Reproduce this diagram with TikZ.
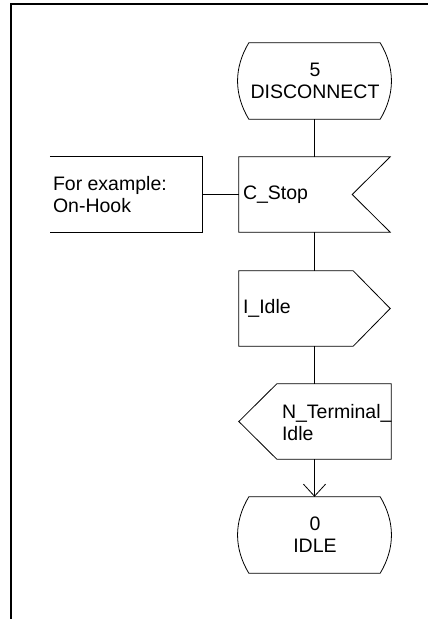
\documentclass[tikz,border=0pt]{standalone}
\usepackage{fontspec}
\setmainfont{Liberation Sans}
\usetikzlibrary{calc,arrows.meta}

\tikzset{
  sdl/.style={draw=black, line width=0.8pt, line join=miter},
  shapebox/.style={inner sep=0pt, minimum width=152pt, minimum height=75pt},
  statebox/.style={shapebox, minimum height=76pt, align=center,
    font=\fontsize{19.5}{22}\selectfont},
  label/.style={inner sep=0pt, anchor=west, align=left,
    font=\fontsize{19.5}{22}\selectfont},
  flow/.style={draw=black, line width=0.8pt},
  frame/.style={draw=black, line width=2pt},
}

\begin{document}
\begin{tikzpicture}[x=1pt,y=-1pt]
  \useasboundingbox (0,0) rectangle (428,619);

  % page frame (left and top borders)
  \coordinate (fb) at (11,619);
  \coordinate (fc) at (11,4.3);
  \coordinate (fr) at (428,4.3);
  \draw[frame] (fb) -- (fc) -- (fr);

  % state 5 DISCONNECT
  \node[statebox] (s5) at (315,81) {5\\DISCONNECT};
  \draw[sdl] ($(s5.north west)+(10,0)$) -- ($(s5.north east)+(-11,0)$)
    .. controls ($(s5.north east)+(4,25)$) and ($(s5.south east)+(4,-25)$) .. ($(s5.south east)+(-11,0)$)
    -- ($(s5.south west)+(10,0)$)
    .. controls ($(s5.south west)+(-5,-25)$) and ($(s5.north west)+(-5,25)$) .. cycle;

  % input signal C_Stop
  \node[shapebox, minimum width=151pt] (cstop) at (314.5,194.5) {};
  \node[label] (cstopt) at ($(cstop.west)+(4,0.5)$) {C\_Stop};
  \draw[sdl] (cstop.north west) -- (cstop.north east) -- ($(cstop.east)+(-38,0)$)
    -- (cstop.south east) -- (cstop.south west) -- cycle;

  % comment attached to C_Stop
  \node[shapebox] (cmt) at (126,194.5) {};
  \node[label] (cmtt) at ($(cmt.west)+(3,0.5)$) {For example:\\On-Hook};
  \draw[sdl] (cmt.north west) -- (cmt.north east) -- (cmt.south east) -- (cmt.south west);
  \draw[flow] (cmt.east) -- (cstop.west);

  % output signal I_Idle
  \node[shapebox, minimum width=151pt] (iidle) at (314.5,308.5) {};
  \node[label] (iidlet) at ($(iidle.west)+(4,0)$) {I\_Idle};
  \draw[sdl] (iidle.north west) -- ($(iidle.north east)+(-37,0)$) -- (iidle.east)
    -- ($(iidle.south east)+(-37,0)$) -- (iidle.south west) -- cycle;

  % input signal N_Terminal_Idle
  \node[shapebox] (nterm) at (315,421.5) {};
  \node[label] (ntermt) at ($(nterm.west)+(43,1.5)$) {N\_Terminal\_\\Idle};
  \draw[sdl] ($(nterm.north west)+(38,0)$) -- (nterm.north east) -- (nterm.south east)
    -- ($(nterm.south west)+(38,0)$) -- (nterm.west) -- cycle;

  % state 0 IDLE
  \node[statebox] (s0) at (315,535) {0\\IDLE};
  \draw[sdl] ($(s0.north west)+(10,0)$) -- ($(s0.north east)+(-11,0)$)
    .. controls ($(s0.north east)+(4,25)$) and ($(s0.south east)+(4,-25)$) .. ($(s0.south east)+(-11,0)$)
    -- ($(s0.south west)+(10,0)$)
    .. controls ($(s0.south west)+(-5,-25)$) and ($(s0.north west)+(-5,25)$) .. cycle;

  % flow lines
  \draw[flow] ($(s5.south)+(-0.5,0)$) -- (cstop.north);
  \draw[flow] (cstop.south) -- (iidle.north);
  \draw[flow] (iidle.north |- iidle.south) -- (iidle.north |- nterm.north);
  \draw[flow, -{Straight Barb[length=12pt, width=22pt, line width=0.8pt]}]
    (iidle.north |- nterm.south) -- (iidle.north |- s0.north);
\end{tikzpicture}
\end{document}
